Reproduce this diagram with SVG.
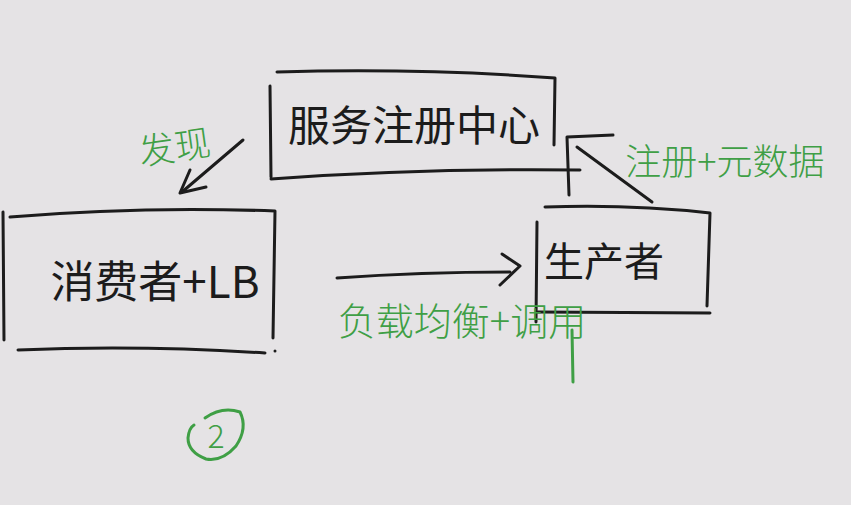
<svg xmlns="http://www.w3.org/2000/svg" width="851" height="505" viewBox="0 0 851 505">
<style>
.ink{fill:none;stroke:#1c1c1c;stroke-width:3;stroke-linecap:round;stroke-linejoin:round}
.gink{fill:none;stroke:#3f9f45;stroke-width:3;stroke-linecap:round;stroke-linejoin:round}
.t{font-family:"Noto Sans CJK SC","Liberation Sans",sans-serif;fill:#1c1c1c;font-weight:400}
.g{font-family:"Noto Sans CJK SC","Liberation Sans",sans-serif;fill:#3f9f45;font-weight:300}
</style>
<rect width="851" height="505" fill="#e5e3e5"/>
<g id="registry">
<path class="ink" d="M277,72 Q420,68 555,78 L554,145"/>
<path class="ink" d="M270,86 L271,177"/>
<path class="ink" d="M271,179 Q420,168 580,170"/>
<text class="t" x="414" y="141" font-size="42" text-anchor="middle">服务注册中心</text>
</g>
<g id="consumer">
<path class="ink" d="M10,217 Q140,206 275,211 L273,338"/>
<path class="ink" d="M3,212 L4,340"/>
<path class="ink" d="M18,350 Q140,345 265,353"/>
<circle cx="275" cy="351" r="1.5" fill="#1c1c1c"/>
<text class="t" x="155" y="298" font-size="44" text-anchor="middle">消费者+LB</text>
</g>
<g id="producer">
<path class="ink" d="M545,207 Q630,204 710,213 L707,306"/>
<path class="ink" d="M537,222 L536,322"/>
<path class="ink" d="M538,312 L710,313"/>
<text class="t" x="604" y="276" font-size="40" text-anchor="middle">生产者</text>
</g>
<g id="connectors">
<path class="ink" d="M243,140 L182,192"/>
<path class="ink" d="M190,170 L180,193 L206,187"/>
<path class="ink" d="M652,202 L577,147"/>
<path class="ink" d="M569,195 L567,137 L613,135"/>
<path class="ink" d="M337,278 Q420,272 510,272"/>
<path class="ink" d="M502,254 L520,266 L500,285"/>
<path class="gink" d="M572,330 L573,382"/>
</g>
<g id="labels">
<text class="g" x="175" y="160" font-size="36" text-anchor="middle" transform="rotate(-8 175 150)">发现</text>
<text class="g" x="725" y="175" font-size="36" text-anchor="middle">注册+元数据</text>
<text class="g" x="462" y="335" font-size="38" text-anchor="middle">负载均衡+调用</text>
<path class="gink" d="M205,418 Q222,406 240,412 Q248,428 236,446 Q222,462 206,459 Q188,452 188,438 Q189,428 194,425"/>
<text class="g" x="216" y="448" font-size="32" text-anchor="middle">2</text>
</g>
</svg>
